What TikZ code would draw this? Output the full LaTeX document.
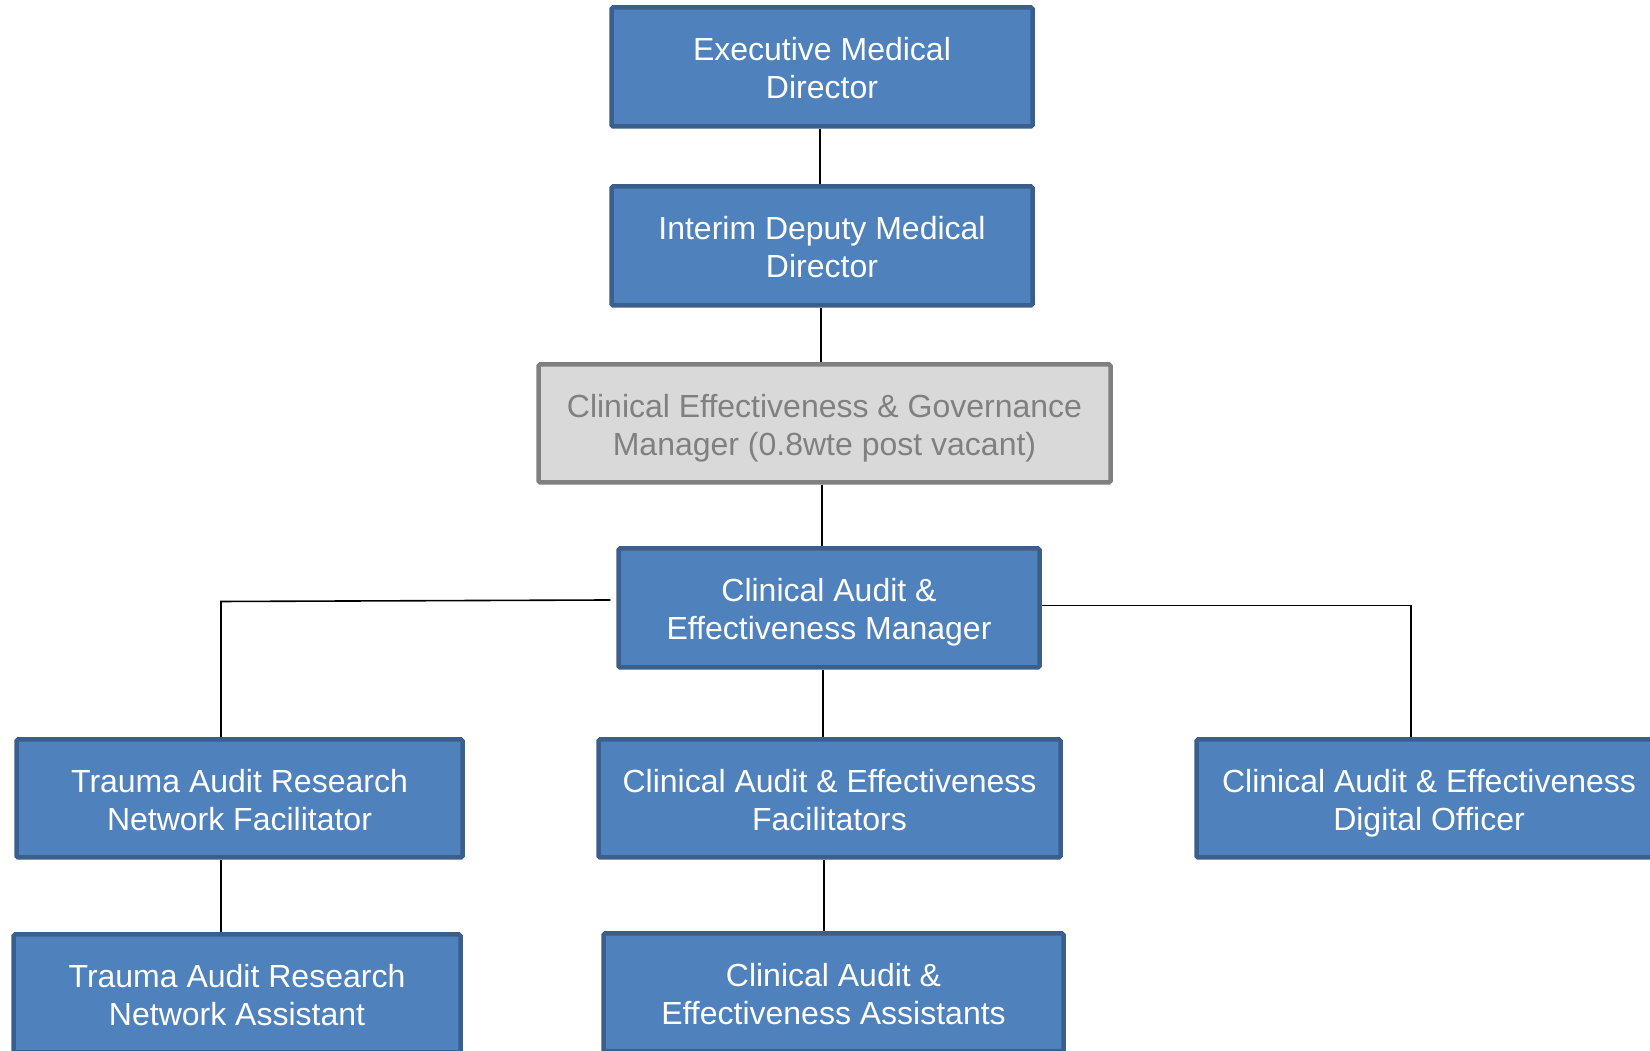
\documentclass[tikz,border=0pt]{standalone}
\usepackage{fontspec}
\setmainfont{Liberation Sans}
\definecolor{boxfill}{HTML}{4F81BD}
\definecolor{boxline}{HTML}{3A5F8C}
\definecolor{vacfill}{HTML}{D9D9D9}
\definecolor{vacline}{HTML}{808080}
% two-line caption with a fixed declared height so every box centres its text alike
\newcommand\roletext[1]{\raisebox{0pt}[64pt][0pt]{\begin{tabular}[b]{@{}c@{}}#1\end{tabular}}}
\begin{document}
\begin{tikzpicture}[x=1pt,y=1pt,
  role/.style={rectangle, draw=boxline, fill=boxfill, line width=4.5pt,
    rounded corners=1.5pt, text=white, inner sep=0pt,
    font=\fontsize{32}{38}\selectfont},
  vacant/.style={role, draw=vacline, fill=vacfill, text=vacline},
  link/.style={draw=black, line width=1.6pt}]
\useasboundingbox (0,0) rectangle (1650,1051);
% top chain
\node[role, minimum width=421pt, minimum height=119pt] (exec) at (822,984) {\roletext{Executive Medical\\Director}};
\node[role, minimum width=421pt, minimum height=119pt] (idmd) at (822,805) {\roletext{Interim Deputy Medical\\Director}};
\node[vacant, minimum width=572pt, minimum height=118pt] (cegm) at (824.5,627.5) {\roletext{Clinical Effectiveness \& Governance\\Manager (0.8wte post vacant)}};
\node[role, minimum width=421pt, minimum height=119pt] (mgr) at (829,443) {\roletext{Clinical Audit \&\\Effectiveness Manager}};
% third row
\node[role, minimum width=446pt, minimum height=118pt] (tarnf) at (239.5,252.5) {\roletext{Trauma Audit Research\\Network Facilitator}};
\node[role, minimum width=462pt, minimum height=118pt] (caef) at (829.5,252.5) {\roletext{Clinical Audit \& Effectiveness\\Facilitators}};
\node[role, minimum width=465pt, minimum height=118pt] (caed) at (1429,252.5) {\roletext{Clinical Audit \& Effectiveness\\Digital Officer}};
% bottom row
\node[role, minimum width=447pt, minimum height=118pt] (tarna) at (237,57.5) {\roletext{Trauma Audit Research\\Network Assistant}};
\node[role, minimum width=460pt, minimum height=118pt] (caea) at (833.5,58.5) {\roletext{Clinical Audit \&\\Effectiveness Assistants}};
% vertical links
\draw[link] ([xshift=-2pt]exec.south) -- ([xshift=-2pt]idmd.north);
\draw[link] ([xshift=-1pt]idmd.south) -- ([xshift=-3.5pt]cegm.north);
\draw[link] ([xshift=-2.5pt]cegm.south) -- ([xshift=-7pt]mgr.north);
\draw[link] ([xshift=-6pt]mgr.south) -- ([xshift=-6.5pt]caef.north);
\draw[link] ([xshift=-5.5pt]caef.south) -- ([xshift=-9.5pt]caea.north);
\draw[link] ([xshift=-18.5pt]tarnf.south) -- ([xshift=-16pt]tarna.north);
% side branches
\coordinate (lk) at (221,449.5);
\coordinate (rk) at (1411,445.5);
\draw[link] ([xshift=-6pt,yshift=8pt]mgr.west) -- (lk) -- (lk |- tarnf.north);
\draw[link] ([yshift=2.5pt]mgr.east) -- (rk) -- (rk |- caed.north);
\end{tikzpicture}
\end{document}
